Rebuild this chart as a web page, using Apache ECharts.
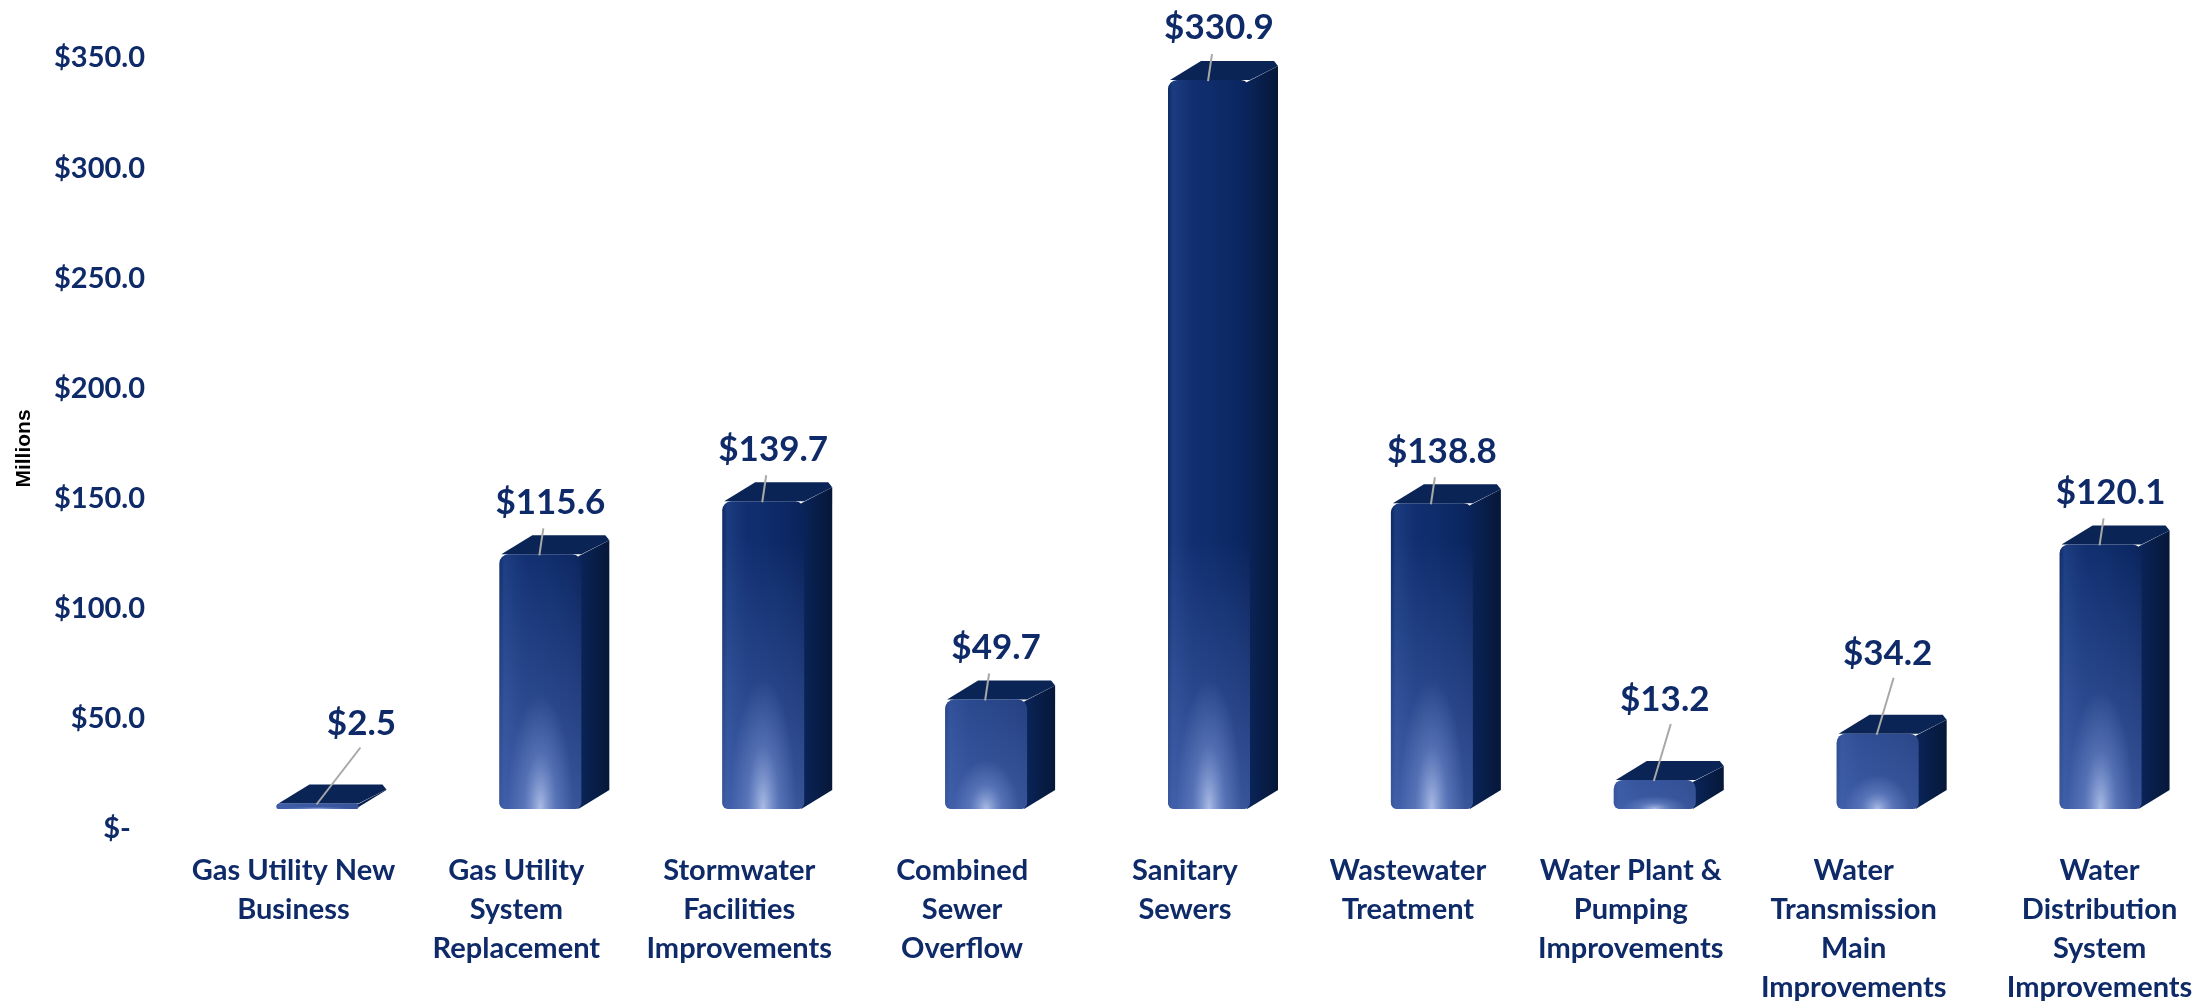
<!DOCTYPE html>
<html>
<head>
<meta charset="utf-8">
<script src="https://cdn.jsdelivr.net/npm/echarts@6/dist/echarts.min.js"></script>
<style>
  html, body { margin: 0; padding: 0; background: #fff; }
  #main { width: 2192px; height: 1001px; }
</style>
</head>
<body>
<div id="main"></div>
<script>
// categories / values
var categories = [
  'Gas Utility New\nBusiness',
  'Gas Utility\nSystem\nReplacement',
  'Stormwater\nFacilities\nImprovements',
  'Combined\nSewer\nOverflow',
  'Sanitary\nSewers',
  'Wastewater\nTreatment',
  'Water Plant &\nPumping\nImprovements',
  'Water\nTransmission\nMain\nImprovements',
  'Water\nDistribution\nSystem\nImprovements'
];
var values = [2.5, 115.6, 139.7, 49.7, 330.9, 138.8, 13.2, 34.2, 120.1];
var yMin = 0, yMax = 350, yStep = 50;

var navy = '#0f2a68';
var chart = echarts.init(document.getElementById('main'));

function renderBar(params, api) {
  var i = api.value(0), v = api.value(1);
  var top = api.coord([i, v]);
  var base = api.coord([i, 0]);
  var cx = top[0];
  var fw = 82;
  var fl = cx - 17, fr = fl + fw;
  var yt = top[1], yb = base[1];
  var h = yb - yt;
  var dx = 28, dy = -19;
  var G = echarts.graphic;

  // front face: dark navy, lighter towards the bottom centre
  var frontFill = new G.LinearGradient(0, 0, 1, 0, [
    { offset: 0, color: '#0e2a66' },
    { offset: 0.06, color: '#1b3c80' },
    { offset: 0.3, color: '#112f70' },
    { offset: 0.6, color: '#0e2b69' },
    { offset: 0.85, color: '#0b2762' },
    { offset: 1, color: '#09225a' }
  ]);
  var lightFill = new G.LinearGradient(0, yb - 270, 0, yb, [
    { offset: 0, color: 'rgba(95,125,205,0)' },
    { offset: 1, color: 'rgba(95,125,205,0.55)' }
  ], true);
  var glowFill = new G.RadialGradient(0.5, 1, 0.5, [
    { offset: 0, color: 'rgba(200,214,246,0.8)' },
    { offset: 0.5, color: 'rgba(140,166,226,0.35)' },
    { offset: 1, color: 'rgba(140,166,226,0)' }
  ]);
  var sideFill = new G.LinearGradient(0, 0, 1, 0, [
    { offset: 0, color: '#0a255a' },
    { offset: 1, color: '#061738' }
  ]);
  var gw = 66;
  var gh = Math.min(h * 0.9, 260);

  // value label + leader line (short bars get a longer leader)
  var short = v < 40;
  var tiny = v < 5;
  var labelX = tiny ? cx + 68 : cx + 34;
  var labelY = short ? yt - 80 : yt - 52;
  var lineX1 = tiny ? cx + 67 : (short ? cx + 40 : cx + 27);
  var lineY1 = short ? yt - 56 : yt - 26;

  return {
    type: 'group',
    children: [
      {
        type: 'polygon',
        shape: { points: [[fr - 3, yt + 2], [fr + dx, yt + dy + 5], [fr + dx, yb + dy], [fr - 3, yb]] },
        style: { fill: sideFill }
      },
      {
        type: 'polygon',
        shape: { points: [[fl + 2, yt], [fl + dx + 5, yt + dy], [fr + dx - 4, yt + dy], [fr + dx, yt + dy + 5], [fr, yt]] },
        style: { fill: '#0a2456' }
      },
      {
        type: 'rect',
        shape: { x: fl, y: yt, width: fw, height: h, r: [9, 9, 6, 6] },
        style: { fill: frontFill }
      },
      {
        type: 'rect',
        shape: { x: fl, y: yt, width: fw, height: h, r: [9, 9, 6, 6] },
        style: { fill: lightFill }
      },
      {
        type: 'rect',
        shape: { x: fl + 8, y: yb - gw, width: gw, height: gw },
        originX: fl + 8 + gw / 2,
        originY: yb,
        scaleY: gh / gw,
        style: { fill: glowFill }
      },
      {
        type: 'line',
        shape: { x1: lineX1, y1: lineY1, x2: cx + 23, y2: yt + 1 },
        style: { stroke: '#a8a8a8', lineWidth: 2 }
      },
      {
        type: 'text',
        style: {
          text: '$' + v.toFixed(1),
          x: labelX,
          y: labelY,
          align: 'center',
          verticalAlign: 'middle',
          fill: navy,
          font: 'bold 35px Lato'
        }
      }
    ]
  };
}

var option = {
  backgroundColor: '#ffffff',
  animation: false,
  grid: {
    left: 182,
    right: 4,
    top: 38,
    bottom: 192,
    containLabel: false,
    outerBoundsMode: 'none'
  },
  xAxis: {
    type: 'category',
    data: categories,
    axisLine: { show: false },
    axisTick: { show: false },
    axisLabel: {
      interval: 0,
      margin: 42,
      color: navy,
      fontFamily: 'Lato',
      fontWeight: 'bold',
      fontSize: 29,
      lineHeight: 39,
      formatter: function (val, idx) {
        // last label sits a bit further right in the original
        if (idx === categories.length - 1) {
          return val.split('\n').map(function (s) { return '{edge|' + s + '}'; }).join('\n');
        }
        return val;
      },
      rich: {
        edge: {
          color: navy,
          fontFamily: 'Lato',
          fontWeight: 'bold',
          fontSize: 29,
          lineHeight: 39,
          padding: [0, 0, 0, 46]
        }
      }
    }
  },
  yAxis: {
    type: 'value',
    min: yMin,
    max: yMax,
    interval: yStep,
    name: 'Millions',
    nameLocation: 'middle',
    nameRotate: 90,
    nameGap: 147,
    nameTextStyle: {
      color: '#000',
      fontFamily: 'Liberation Sans Narrow, Liberation Sans',
      fontWeight: 'bold',
      fontSize: 21,
      padding: [0, 50, 0, 0]
    },
    splitLine: { show: false },
    axisLine: { show: false },
    axisTick: { show: false },
    axisLabel: {
      margin: 37,
      color: navy,
      fontFamily: 'Lato',
      fontWeight: 'bold',
      fontSize: 29,
      verticalAlign: 'top',
      lineHeight: 40,
      formatter: function (val) {
        return val === 0 ? '$-  ' : '$' + val.toFixed(1);
      }
    }
  },
  series: [{
    type: 'custom',
    renderItem: renderBar,
    clip: false,
    encode: { x: 0, y: 1 },
    data: values.map(function (v, i) { return [i, v]; })
  }]
};

chart.setOption(option);
</script>
</body>
</html>
